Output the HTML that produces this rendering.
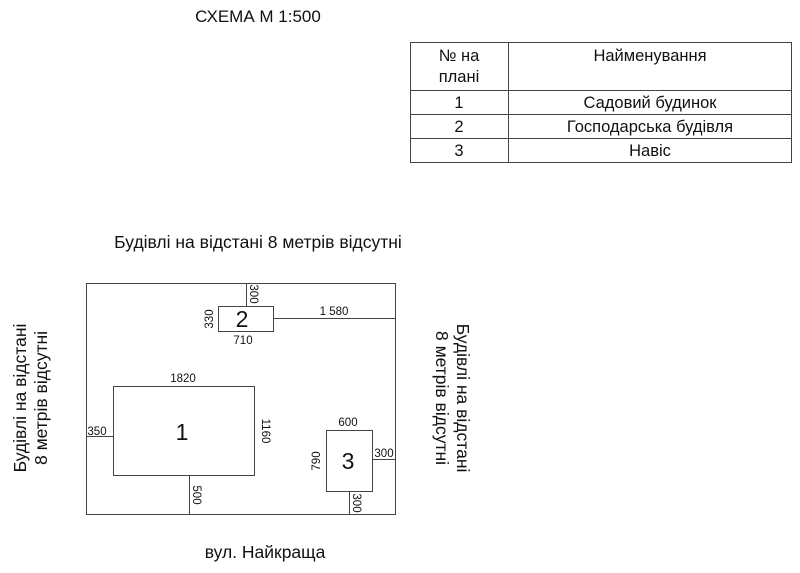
<!DOCTYPE html>
<html><head><meta charset="utf-8"><style>body{margin:0;background:#fff}svg{display:block}text{font-family:"Liberation Sans",sans-serif;fill:#111}</style></head>
<body>
<svg width="800" height="573" viewBox="0 0 800 573" xmlns="http://www.w3.org/2000/svg">
<g stroke="#444" stroke-width="1" fill="none">
<rect x="410.5" y="42.5" width="381" height="120"/>
<line x1="508.5" y1="42" x2="508.5" y2="163"/>
<line x1="410" y1="90.5" x2="792" y2="90.5"/>
<line x1="410" y1="114.5" x2="792" y2="114.5"/>
<line x1="410" y1="138.5" x2="792" y2="138.5"/>
<rect x="86.5" y="283.5" width="309" height="231"/>
<rect x="218.5" y="306.5" width="55" height="25"/>
<line x1="246.5" y1="283" x2="246.5" y2="306"/>
<line x1="273" y1="318.5" x2="395" y2="318.5"/>
<rect x="113.5" y="386.5" width="141" height="89"/>
<line x1="86" y1="436.5" x2="113" y2="436.5"/>
<line x1="189.5" y1="475" x2="189.5" y2="514"/>
<rect x="326.5" y="430.5" width="46" height="61"/>
<line x1="372" y1="459.5" x2="395" y2="459.5"/>
<line x1="349.5" y1="491" x2="349.5" y2="514"/>
</g>
<text x="258" y="22" font-size="17" text-anchor="middle">СХЕМА М 1:500</text>
<g font-size="16.5" text-anchor="middle">
<text x="459" y="61">№ на</text><text x="459" y="82">плані</text>
<text x="650" y="61">Найменування</text>
<text x="459" y="108">1</text><text x="650" y="108">Садовий будинок</text>
<text x="459" y="132">2</text><text x="650" y="132">Господарська будівля</text>
<text x="459" y="156">3</text><text x="650" y="156">Навіс</text>
</g>
<text x="258" y="248" font-size="17.5" text-anchor="middle">Будівлі на відстані 8 метрів відсутні</text>
<text x="265" y="558" font-size="17.5" text-anchor="middle">вул. Найкраща</text>
<g font-size="17.5" text-anchor="middle">
<text transform="translate(26,398) rotate(-90)">Будівлі на відстані</text>
<text transform="translate(47,398) rotate(-90)">8 метрів відсутні</text>
<text transform="translate(457,398) rotate(90)">Будівлі на відстані</text>
<text transform="translate(436,398) rotate(90)">8 метрів відсутні</text>
</g>
<g font-size="11.5" text-anchor="middle">
<text transform="translate(250,294) rotate(90)">300</text>
<text transform="translate(213,319) rotate(-90)">330</text>
<text x="243" y="344">710</text>
<text x="334" y="315">1 580</text>
<text x="183" y="382">1820</text>
<text x="97" y="435">350</text>
<text transform="translate(262,431) rotate(90)">1160</text>
<text transform="translate(193,495) rotate(90)">500</text>
<text x="348" y="426">600</text>
<text transform="translate(320,461) rotate(-90)">790</text>
<text x="384" y="457">300</text>
<text transform="translate(353,503) rotate(90)">300</text>
</g>
<g font-size="23" text-anchor="middle">
<text x="242" y="327">2</text>
<text x="182" y="440">1</text>
<text x="348" y="469">3</text>
</g>
</svg>
</body></html>
